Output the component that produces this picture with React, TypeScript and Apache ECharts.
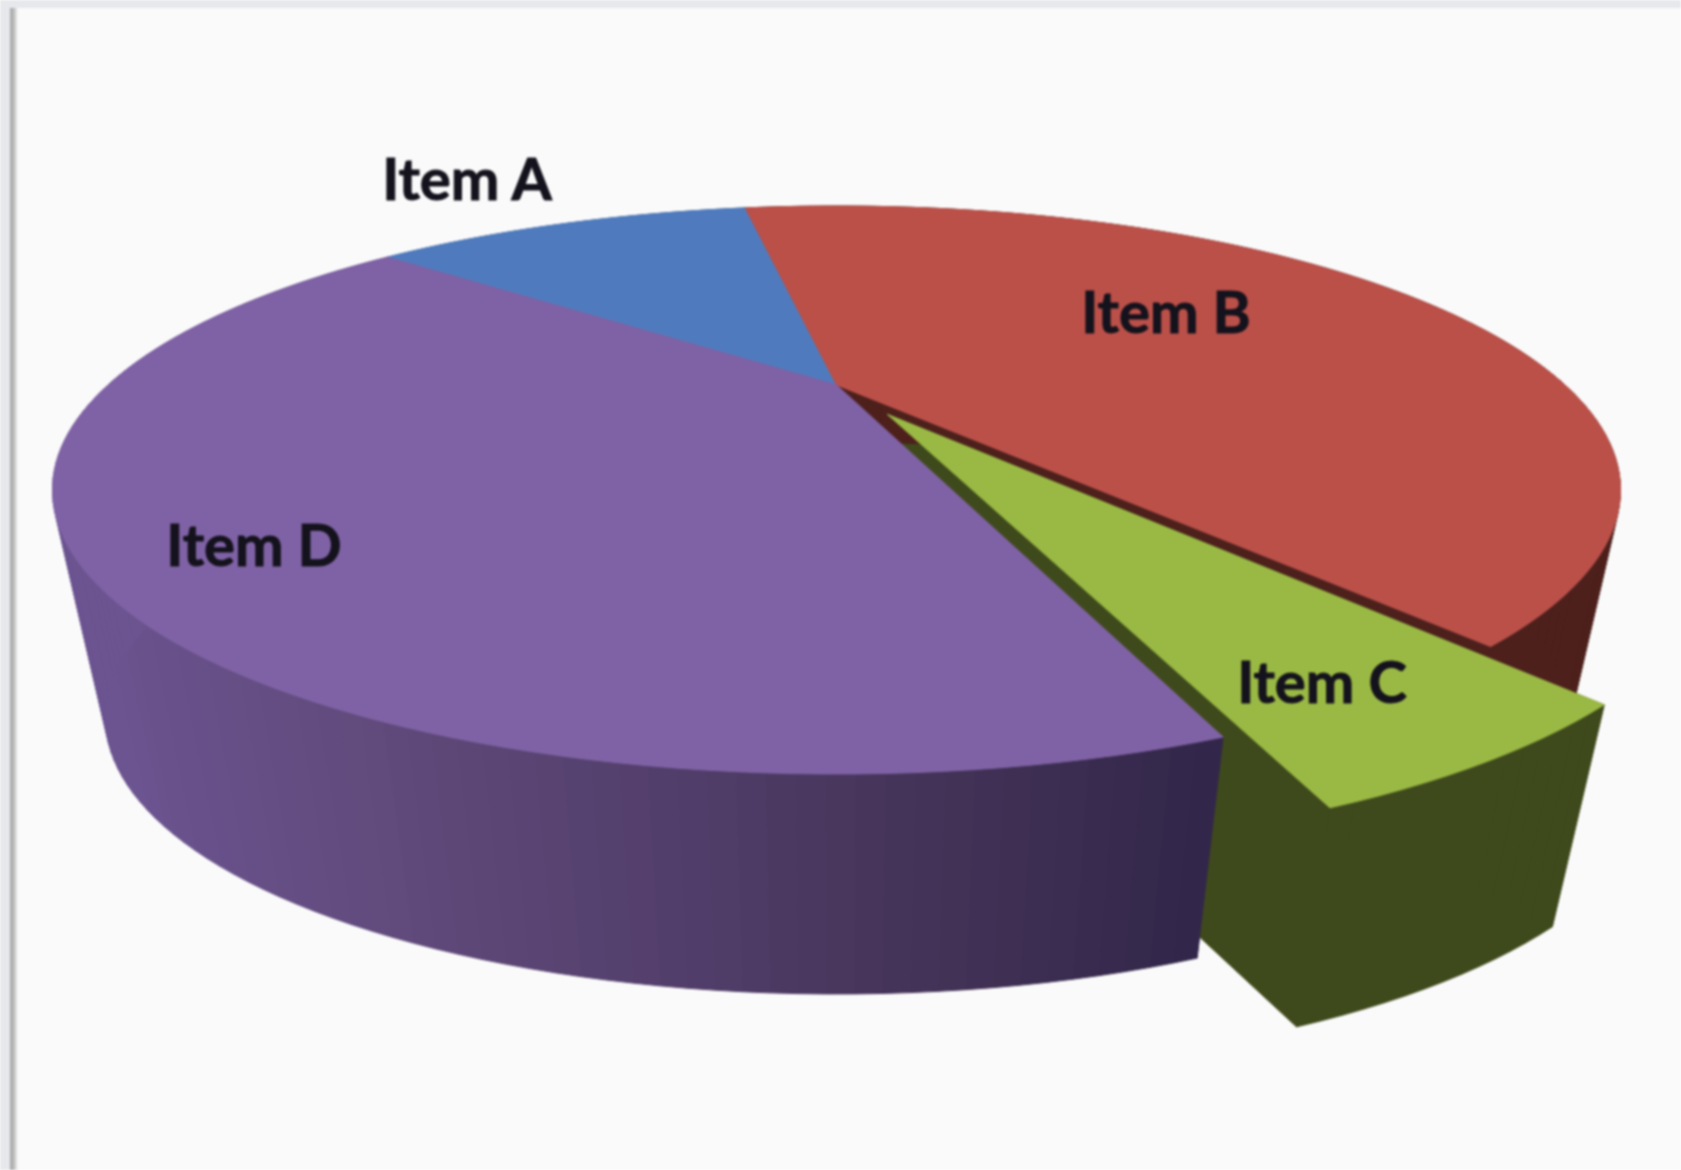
import React, { useEffect, useRef } from "react";
import * as echarts from "echarts";

const categories = ["Item A", "Item B", "Item C", "Item D"];
const seriesValues = [11.1, 41.6, 5.5, 41.8];
const topColors = ["#4f7bbe", "#bb5049", "#9ab944", "#7f62a5"];
const wallColors = ["#2f4a72", "#4d201c", "#3f4a1c", "#4c3a63"];
const shadeStops = ["#6b5490", "#614a7c", "#533f6c", "#443358", "#32274a"];
const explodedIndex = 2;
const explodeAmount = 0.133;
const startAngleDeg = -49.8;

const W = 1681;
const H = 1170;
const TOP = { cx: 836.5, cy: 490, rx: 784, ry: 284 };
const BOTTOM = { cx: 836.5, cy: 718, rx: 731, ry: 276 };
const K = -0.37;
const SHADE_X0 = 107;
const SHADE_X1 = 1195;
const LABEL_POS: Record<string, [number, number]> = {
  "Item A": [467, 177],
  "Item B": [1166, 310],
  "Item C": [1322, 680],
  "Item D": [254, 543],
};

type Plane = { cx: number; cy: number; rx: number; ry: number };
type UV = [number, number];

function project(p: Plane, [u, v]: UV): number[] {
  const d = 1 + K * v;
  const x = (u * Math.sqrt(1 - K * K)) / d;
  const y = (v + K) / d;
  return [p.cx + p.rx * x, p.cy + p.ry * y];
}

function dir(deg: number): UV {
  const r = (deg * Math.PI) / 180;
  return [Math.sin(r), -Math.cos(r)];
}

const total = seriesValues.reduce((a, b) => a + b, 0);

function renderItem(params: any, api: any) {
  const i = params.dataIndex;
  const value = api.value(0);
  let before = 0;
  for (let j = 0; j < i; j++) before += seriesValues[j];
  const a0 = startAngleDeg + (before / total) * 360;
  const a1 = a0 + (value / total) * 360;
  const mid = dir((a0 + a1) / 2);
  const exploded = i === explodedIndex;
  const e = exploded ? explodeAmount : 0;
  const off: UV = [mid[0] * e, mid[1] * e];
  const rim: UV[] = [];
  const steps = Math.max(2, Math.ceil((a1 - a0) / 1.5));
  for (let s = 0; s <= steps; s++) {
    const d = dir(a0 + ((a1 - a0) * s) / steps);
    rim.push([d[0] + off[0], d[1] + off[1]]);
  }
  const topRim = rim.map((p) => project(TOP, p));
  const botRim = rim.map((p) => project(BOTTOM, p));
  const apexT = project(TOP, off);
  const apexB = project(BOTTOM, off);
  const dark = wallColors[i];
  const radialZ = exploded ? 2 : 1;
  const poly = (points: number[][], fill: any, z2: number, stroke?: string) => ({
    type: "polygon",
    z2,
    shape: { points },
    style: { fill, stroke: stroke || "none", lineWidth: stroke ? 1 : 0 },
  });
  const wallQuads: any[] = [];
  for (let s = 0; s < steps; s++) {
    const xm = (topRim[s][0] + topRim[s + 1][0] + botRim[s][0] + botRim[s + 1][0]) / 4;
    const t = Math.min(1, Math.max(0, (xm - SHADE_X0) / (SHADE_X1 - SHADE_X0)));
    const c = i === 3 ? echarts.color.lerp(t, shadeStops) : dark;
    wallQuads.push(poly([topRim[s], topRim[s + 1], botRim[s + 1], botRim[s]], c, exploded ? 5 : 3, c));
  }
  const [lx, ly] = LABEL_POS[categories[i]];
  const children: any[] = [
    poly([apexT, topRim[0], botRim[0], apexB], dark, radialZ, dark),
    poly([apexT, topRim[steps], botRim[steps], apexB], dark, radialZ, dark),
    ...wallQuads,
    poly([apexT, ...topRim], topColors[i], exploded ? 6 : 4, topColors[i]),
    {
      type: "text",
      z2: 10,
      style: {
        text: categories[i],
        x: lx,
        y: ly,
        align: "center",
        verticalAlign: "middle",
        fill: "#14121c",
        font: "bold 58px Lato",
        stroke: "#14121c",
        lineWidth: 1,
      },
    },
  ];
  return { type: "group", children };
}

export default function App() {
  const ref = useRef<HTMLDivElement>(null);
  useEffect(() => {
    const chart = echarts.init(ref.current!, undefined, { renderer: "svg" });
    chart.setOption({
      animation: false,
      backgroundColor: "#fafafa",
      graphic: [
        { type: "rect", z: -10, shape: { x: 0, y: 0, width: W, height: 8 }, style: { fill: "#e6e8ec" } },
        { type: "rect", z: -10, shape: { x: 0, y: 0, width: 10, height: H }, style: { fill: "#e6e8ec" } },
        {
          type: "rect",
          z: -10,
          shape: { x: 10, y: 8, width: 8, height: H - 8 },
          style: {
            fill: new echarts.graphic.LinearGradient(0, 0, 1, 0, [
              { offset: 0, color: "#a9a9a9" },
              { offset: 0.4, color: "#b4b4b4" },
              { offset: 1, color: "#fafafa" },
            ]),
          },
        },
      ],
      series: [
        {
          type: "custom",
          coordinateSystem: "none",
          silent: true,
          clip: false,
          data: seriesValues.map((v, i) => ({ name: categories[i], value: [v] })),
          renderItem,
        },
      ],
    });
    return () => chart.dispose();
  }, []);
  return (
    <div
      ref={ref}
      style={{ position: "absolute", left: 0, top: 0, width: W, height: H, filter: "blur(1px)", background: "#fafafa" }}
    />
  );
}
